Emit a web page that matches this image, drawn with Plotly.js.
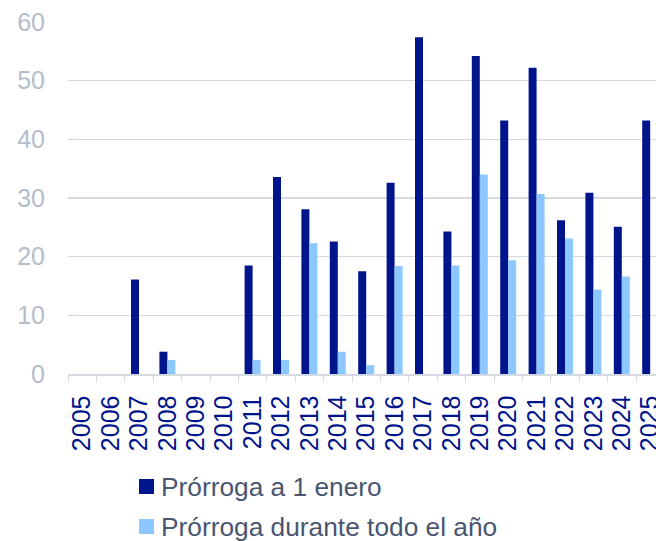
<!DOCTYPE html>
<html>
<head>
<meta charset="utf-8">
<script src="https://cdn.plot.ly/plotly-3.0.1.min.js"></script>
<style>html,body{margin:0;padding:0;background:#fff;}#chart{width:656px;height:541px;}</style>
</head>
<body>
<div id="chart"></div>
<script>
const years = ['2005','2006','2007','2008','2009','2010','2011','2012','2013','2014','2015','2016','2017','2018','2019','2020','2021','2022','2023','2024','2025'];
const prorrogaEnero = [0, 0, 16.1, 3.8, 0, 0, 18.5, 33.6, 28.1, 22.6, 17.5, 32.6, 57.4, 24.3, 54.2, 43.2, 52.2, 26.2, 30.9, 25.1, 43.2];
const prorrogaAnio  = [0, 0, 0, 2.4, 0, 0, 2.4, 2.4, 22.3, 3.8, 1.5, 18.4, 0, 18.5, 34.0, 19.4, 30.7, 23.1, 14.4, 16.6, 0];
const seriesNames = ['Prórroga a 1 enero', 'Prórroga durante todo el año'];
const seriesColors = ['#00148C', '#8CC8FF'];
const yTicks = [0, 10, 20, 30, 40, 50, 60];

const W = 656, H = 541;
const M = {l: 68, r: 0, t: 22, b: 167};
const pw = W - M.l - M.r, ph = H - M.t - M.b;
const px2x = p => (p - M.l) / pw;
const px2y = p => (H - M.b - p) / ph;

const font = 'Liberation Sans, Arial, sans-serif';

const traces = [prorrogaEnero, prorrogaAnio].map((vals, i) => ({
  type: 'bar', x: years, y: vals, name: seriesNames[i],
  marker: {color: seriesColors[i], line: {width: 0}},
  hoverinfo: 'x+y', showlegend: false
}));

const shapes = [], annotations = [];
const rows = [[479, 494, 486.5], [519, 534, 526.5]];
seriesNames.forEach((n, i) => {
  shapes.push({type: 'rect', xref: 'paper', yref: 'paper',
    x0: px2x(139), x1: px2x(154), y0: px2y(rows[i][0]), y1: px2y(rows[i][1]),
    fillcolor: seriesColors[i], line: {width: 0}});
  annotations.push({xref: 'paper', yref: 'paper', x: px2x(159), y: px2y(rows[i][2]),
    xanchor: 'left', yanchor: 'middle', showarrow: false, text: n,
    font: {family: font, size: 26.3, color: '#4A5671'}});
});

const layout = {
  width: W, height: H,
  margin: M,
  paper_bgcolor: '#fff', plot_bgcolor: '#fff',
  barmode: 'group', bargap: 0.437, bargroupgap: 0,
  showlegend: false,
  xaxis: {
    type: 'category', range: [-0.5, -0.5 + pw / 28.4],
    tickmode: 'linear', tick0: 0, dtick: 1,
    tickson: 'boundaries', ticks: 'outside', ticklen: 6, tickwidth: 1, tickcolor: '#D5DAE2',
    ticklabelstandoff: 10,
    showline: true, linecolor: '#D5DAE2', linewidth: 1.5,
    showgrid: false, tickangle: -90,
    tickfont: {family: font, size: 25, color: '#00148C'},
    fixedrange: true
  },
  yaxis: {
    range: [0, 60], tickvals: yTicks, ticktext: yTicks.map(String),
    showgrid: true, gridcolor: '#D5DAE2', gridwidth: 1.5, zeroline: false,
    showline: false, ticks: '', ticklabelstandoff: 22,
    tickfont: {family: font, size: 25, color: '#B4BECB'},
    fixedrange: true
  },
  shapes: shapes, annotations: annotations
};

Plotly.newPlot('chart', traces, layout, {displayModeBar: false, staticPlot: true});
</script>
</body>
</html>
